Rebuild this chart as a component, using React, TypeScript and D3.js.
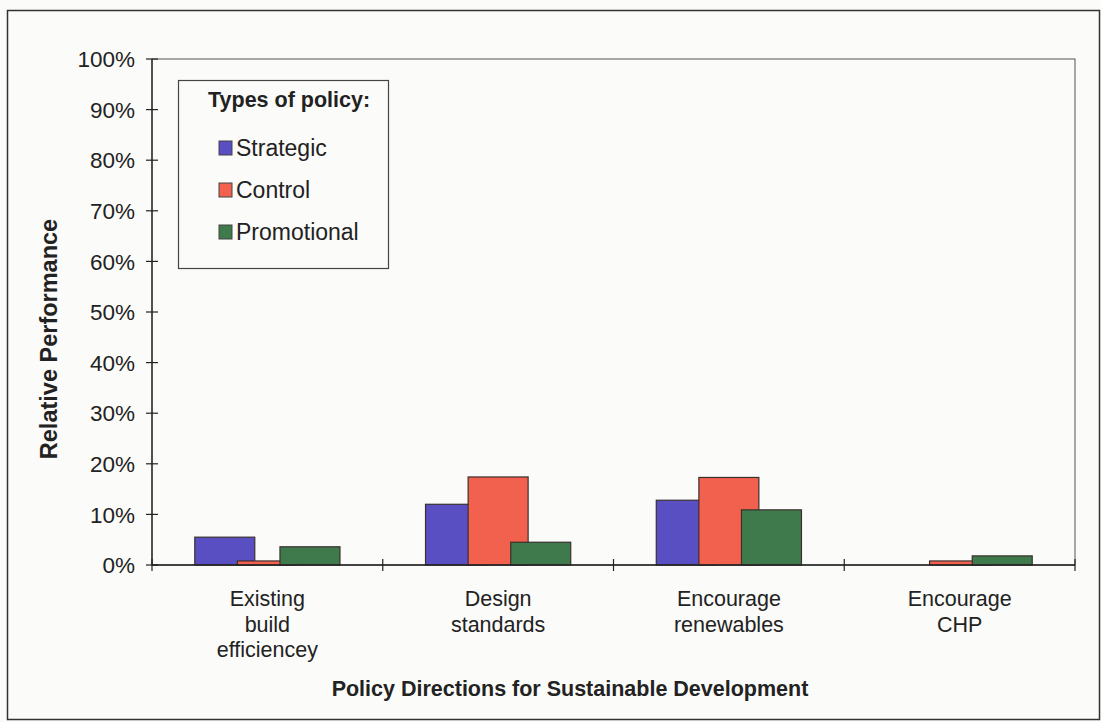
import React from 'react';
import * as d3 from 'd3';

// data
const categories = [
  ['Existing', 'build', 'efficiencey'],
  ['Design', 'standards'],
  ['Encourage', 'renewables'],
  ['Encourage', 'CHP'],
];
const seriesNames = ['Strategic', 'Control', 'Promotional'];
const strategic = [5.5, 12.0, 12.8, 0];
const control = [0.8, 17.4, 17.3, 0.8];
const promotional = [3.6, 4.5, 10.9, 1.8];
const yTicks = [0, 10, 20, 30, 40, 50, 60, 70, 80, 90, 100];

const colors = ['#5a4fc2', '#f2604e', '#3e7a4c'];
const font = '"Liberation Sans", Arial, sans-serif';

const App = () => {
  const width = 1101;
  const height = 722;
  const plot = { left: 152, top: 59, right: 1075, bottom: 565 };

  const series = [strategic, control, promotional];

  const x = d3.scaleBand<number>()
    .domain(d3.range(categories.length))
    .range([plot.left, plot.right])
    .padding(0);
  const y = d3.scaleLinear().domain([0, 100]).range([plot.bottom, plot.top]);

  // Excel-style overlapping bars
  const barW = x.bandwidth() * 0.26;
  const step = barW * 0.71;
  const groupW = barW + step * 2;

  return (
    <svg
      width={width}
      height={height}
      style={{ position: 'absolute', left: 0, top: 0, background: '#fbfbf9' }}
      fontFamily={font}
    >
      {/* outer frame */}
      <rect x={7.5} y={10.5} width={1092} height={709} fill="none" stroke="#333" strokeWidth={1.5} />

      {/* plot area border */}
      <rect
        x={plot.left}
        y={plot.top}
        width={plot.right - plot.left}
        height={plot.bottom - plot.top}
        fill="none"
        stroke="#555"
        strokeWidth={1}
      />

      {/* y axis */}
      <line x1={plot.left} x2={plot.left} y1={plot.top} y2={plot.bottom} stroke="#222" strokeWidth={1.3} />
      {yTicks.map(t => (
        <g key={t}>
          <line x1={plot.left - 6} x2={plot.left + 6} y1={y(t)} y2={y(t)} stroke="#222" strokeWidth={1.2} />
          <text x={plot.left - 17} y={y(t)} dy="0.36em" textAnchor="end" fontSize={22.5} fill="#222">
            {t}%
          </text>
        </g>
      ))}

      {/* bars */}
      {series.map((vals, si) =>
        vals.map((v, ci) => {
          if (v <= 0) return null;
          const cx = (x(ci) as number) + x.bandwidth() / 2;
          const bx = cx - groupW / 2 + si * step;
          return (
            <rect
              key={`${si}-${ci}`}
              x={bx}
              y={y(v)}
              width={barW}
              height={y(0) - y(v)}
              fill={colors[si]}
              stroke="#3a3030"
              strokeWidth={1.2}
            />
          );
        })
      )}

      {/* x axis */}
      <line x1={plot.left} x2={plot.right} y1={plot.bottom} y2={plot.bottom} stroke="#222" strokeWidth={1.3} />
      {d3.range(categories.length + 1).map(i => {
        const tx = i < categories.length ? (x(i) as number) : plot.right;
        return <line key={i} x1={tx} x2={tx} y1={plot.bottom - 6} y2={plot.bottom + 6} stroke="#222" strokeWidth={1.2} />;
      })}
      {categories.map((lines, ci) => (
        <text
          key={ci}
          x={(x(ci) as number) + x.bandwidth() / 2}
          y={606}
          textAnchor="middle"
          fontSize={21.5}
          fill="#222"
        >
          {lines.map((l, li) => (
            <tspan key={li} x={(x(ci) as number) + x.bandwidth() / 2} dy={li === 0 ? 0 : 25.5}>
              {l}
            </tspan>
          ))}
        </text>
      ))}

      {/* axis titles */}
      <text x={570} y={696} textAnchor="middle" fontSize={21.5} fontWeight="bold" fill="#222">
        Policy Directions for Sustainable Development
      </text>
      <text
        transform="translate(57,339) rotate(-90)"
        textAnchor="middle"
        fontSize={23.5}
        fontWeight="bold"
        fill="#222"
      >
        Relative Performance
      </text>

      {/* legend */}
      <g>
        <rect x={178.5} y={80.5} width={210} height={188} fill="#fbfbf9" stroke="#444" strokeWidth={1.2} />
        <text x={208} y={107} fontSize={21.5} fontWeight="bold" fill="#222">
          Types of policy:
        </text>
        {seriesNames.map((n, i) => (
          <g key={n} transform={`translate(219, ${148 + i * 42})`}>
            <rect x={0} y={-7} width={13} height={14} fill={colors[i]} stroke="#444" strokeWidth={1} />
            <text x={17} y={0} dy="0.36em" fontSize={23} fill="#222">
              {n}
            </text>
          </g>
        ))}
      </g>
    </svg>
  );
};

export default App;
